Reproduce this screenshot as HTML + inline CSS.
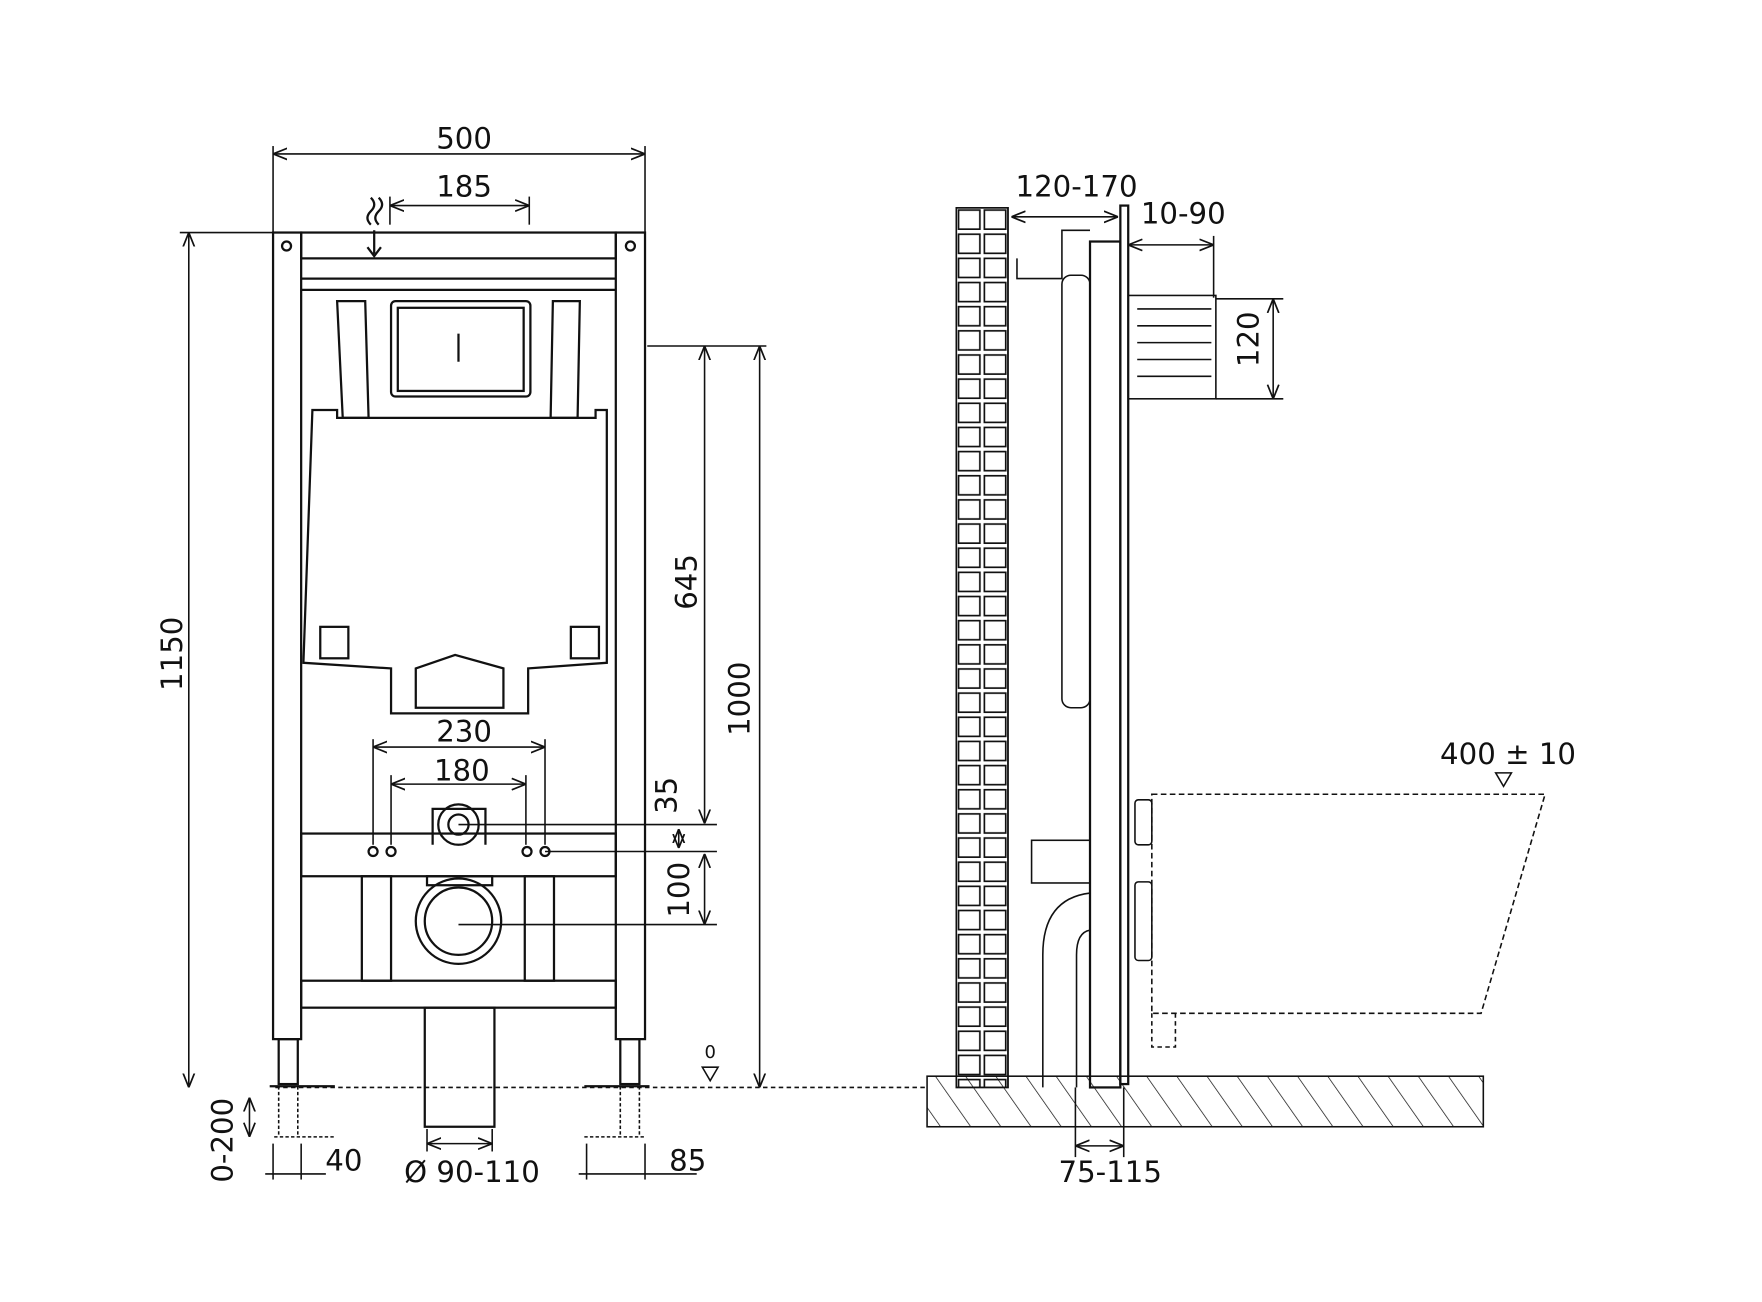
<!DOCTYPE html>
<html><head><meta charset="utf-8"><style>
html,body{margin:0;padding:0;background:#fff;width:1762px;height:1302px;overflow:hidden}
svg{display:block}
text{font-family:"DejaVu Sans","Liberation Sans",sans-serif;font-size:26px;fill:#111}
</style></head><body>
<svg width="1762" height="1302" viewBox="0 0 1568 1159" preserveAspectRatio="none" xmlns="http://www.w3.org/2000/svg">
<defs>
<marker id="a" viewBox="0 0 10 10" refX="10" refY="5" markerWidth="9" markerHeight="9" orient="auto-start-reverse"><path d="M0,1 L10,5 L0,9" fill="none" stroke="#111" stroke-width="1.2"/></marker>
<pattern id="h" width="22" height="22" patternUnits="userSpaceOnUse" patternTransform="rotate(-35)"><line x1="0" y1="0" x2="0" y2="22" stroke="#111" stroke-width="1.3"/></pattern>
<pattern id="br" width="23" height="21.5" patternUnits="userSpaceOnUse" x="851" y="185"><rect x="2" y="2" width="19" height="17" fill="none" stroke="#111" stroke-width="1.5"/></pattern>
</defs>
<g fill="none" stroke="#111" stroke-width="2">
<rect x="243" y="207" width="25" height="718"/>
<rect x="548" y="207" width="26" height="718"/>
<rect x="268" y="207" width="280" height="23"/>
<line x1="268" y1="248" x2="548" y2="248"/>
<line x1="268" y1="258" x2="548" y2="258"/>
<circle cx="255" cy="219" r="4"/><circle cx="561" cy="219" r="4"/>
<rect x="268" y="742" width="280" height="38"/>
<rect x="268" y="873" width="280" height="24"/>
<rect x="322" y="780" width="26" height="93"/><rect x="467" y="780" width="26" height="93"/>
<rect x="248" y="925" width="17" height="40"/><rect x="552" y="925" width="17" height="40"/>
<line x1="240" y1="967" x2="298" y2="967"/><line x1="520" y1="967" x2="578" y2="967"/>
<rect x="378" y="897" width="62" height="106"/>
<path d="M278,365 L300,365 L300,372 L530,372 L530,365 L540,365 L540,590 L470,595 L470,635 L348,635 L348,595 L270,590 Z"/>
<rect x="348" y="268" width="124" height="85" rx="4"/>
<rect x="354" y="274" width="112" height="74"/>
<line x1="408" y1="297" x2="408" y2="322"/>
<path d="M300,268 L325,268 L328,372 L305,372 Z"/><path d="M492,268 L516,268 L514,372 L490,372 Z"/>
<path d="M370,595 L405,583 L448,595 L448,630 L370,630 Z"/>
<rect x="285" y="558" width="25" height="28"/><rect x="508" y="558" width="25" height="28"/>
<path d="M385,752 L385,720 L432,720 L432,752"/>
<circle cx="408" cy="734" r="18"/><circle cx="408" cy="734" r="9"/>
<circle cx="408" cy="820" r="38"/><circle cx="408" cy="820" r="30"/>
<rect x="380" y="780" width="58" height="8"/>
<circle cx="332" cy="758" r="4"/><circle cx="348" cy="758" r="4"/><circle cx="469" cy="758" r="4"/><circle cx="485" cy="758" r="4"/>
<path d="M330,200 q-6,-6 0,-12 q6,-6 0,-12 M337,200 q-6,-6 0,-12 q6,-6 0,-12"/>
<path d="M333,205 L333,226 M327,220 L333,228 L339,220"/>
</g>
<g fill="none" stroke="#111" stroke-width="1.4">
<line x1="243" y1="137" x2="574" y2="137" marker-start="url(#a)" marker-end="url(#a)"/>
<line x1="243" y1="130" x2="243" y2="207"/><line x1="574" y1="130" x2="574" y2="207"/>
<line x1="347" y1="183" x2="471" y2="183" marker-start="url(#a)" marker-end="url(#a)"/>
<line x1="347" y1="175" x2="347" y2="200"/><line x1="471" y1="175" x2="471" y2="200"/>
<line x1="168" y1="207" x2="168" y2="968" marker-start="url(#a)" marker-end="url(#a)"/>
<line x1="160" y1="207" x2="243" y2="207"/>
<line x1="576" y1="308" x2="682" y2="308"/>
<line x1="627" y1="308" x2="627" y2="733" marker-start="url(#a)" marker-end="url(#a)"/>
<line x1="676" y1="308" x2="676" y2="968" marker-start="url(#a)" marker-end="url(#a)"/>
<line x1="408" y1="734" x2="638" y2="734"/><line x1="485" y1="758" x2="638" y2="758"/>
<line x1="408" y1="823" x2="638" y2="823"/>
<line x1="604" y1="738" x2="604" y2="755" marker-start="url(#a)" marker-end="url(#a)"/>
<line x1="627" y1="760" x2="627" y2="823" marker-start="url(#a)" marker-end="url(#a)"/>
<line x1="332" y1="665" x2="485" y2="665" marker-start="url(#a)" marker-end="url(#a)"/>
<line x1="332" y1="658" x2="332" y2="752"/><line x1="485" y1="658" x2="485" y2="752"/>
<line x1="348" y1="698" x2="468" y2="698" marker-start="url(#a)" marker-end="url(#a)"/>
<line x1="348" y1="690" x2="348" y2="752"/><line x1="468" y1="690" x2="468" y2="752"/>
<line x1="245" y1="968" x2="825" y2="968" stroke-dasharray="4 3"/>
<line x1="222" y1="977" x2="222" y2="1012" marker-start="url(#a)" marker-end="url(#a)"/>
<line x1="244" y1="1012" x2="298" y2="1012" stroke-dasharray="3 2"/><line x1="520" y1="1012" x2="574" y2="1012" stroke-dasharray="3 2"/>
<line x1="248" y1="967" x2="248" y2="1012" stroke-dasharray="3 2"/><line x1="265" y1="967" x2="265" y2="1012" stroke-dasharray="3 2"/>
<line x1="552" y1="967" x2="552" y2="1012" stroke-dasharray="3 2"/><line x1="569" y1="967" x2="569" y2="1012" stroke-dasharray="3 2"/>
<line x1="243" y1="1018" x2="243" y2="1050"/><line x1="268" y1="1018" x2="268" y2="1050"/>
<line x1="236" y1="1045" x2="290" y2="1045"/>
<line x1="522" y1="1018" x2="522" y2="1050"/><line x1="574" y1="1018" x2="574" y2="1050"/>
<line x1="515" y1="1045" x2="620" y2="1045"/>
<line x1="380" y1="1018" x2="438" y2="1018" marker-start="url(#a)" marker-end="url(#a)"/>
<line x1="380" y1="1005" x2="380" y2="1025"/><line x1="438" y1="1005" x2="438" y2="1025"/>
<path d="M625,950 L639,950 L632,962 Z"/>
<rect x="825" y="958" width="495" height="45" fill="url(#h)"/>
<rect x="851" y="185" width="46" height="783" fill="url(#br)"/>
<rect x="851" y="185" width="46" height="783"/>
<rect x="970" y="215" width="27" height="753" stroke-width="2"/>
<rect x="997" y="183" width="7" height="782" stroke-width="2"/>
<rect x="945" y="245" width="25" height="385" rx="8"/>
<path d="M905,230 L905,248 L945,248 L945,205 L970,205"/>
<rect x="1004" y="263" width="78" height="92"/>
<path d="M1012,275 H1078 M1012,290 H1078 M1012,305 H1078 M1012,320 H1078 M1012,335 H1078"/>
<rect x="918" y="748" width="52" height="38"/>
<path d="M928,968 L928,850 Q928,800 970,795 M958,968 L958,850 Q958,830 970,828"/>
<rect x="1010" y="712" width="15" height="40" rx="3"/><rect x="1010" y="785" width="15" height="70" rx="3"/>
<path d="M1025,707 L1375,707 L1318,902 L1025,902 Z" stroke-dasharray="5 3"/>
<path d="M1025,902 L1025,932 L1046,932 L1046,902" stroke-dasharray="4 3"/>
<path d="M1331,688 L1345,688 L1338,700 Z"/>
<line x1="900" y1="193" x2="995" y2="193" marker-start="url(#a)" marker-end="url(#a)"/>
<line x1="1004" y1="218" x2="1080" y2="218" marker-start="url(#a)" marker-end="url(#a)"/>
<line x1="1080" y1="210" x2="1080" y2="265"/>
<line x1="1133" y1="266" x2="1133" y2="355" marker-start="url(#a)" marker-end="url(#a)"/>
<line x1="1082" y1="266" x2="1142" y2="266"/><line x1="1082" y1="355" x2="1142" y2="355"/>
<line x1="957" y1="1020" x2="1000" y2="1020" marker-start="url(#a)" marker-end="url(#a)"/>
<line x1="957" y1="968" x2="957" y2="1030"/><line x1="1000" y1="968" x2="1000" y2="1030"/>
</g>
<text x="413" y="132" text-anchor="middle">500</text>
<text x="413" y="175" text-anchor="middle">185</text>
<text transform="translate(162,582) rotate(-90)" text-anchor="middle">1150</text>
<text transform="translate(620,518) rotate(-90)" text-anchor="middle">645</text>
<text transform="translate(667,622) rotate(-90)" text-anchor="middle">1000</text>
<text transform="translate(602,708) rotate(-90)" text-anchor="middle">35</text>
<text transform="translate(613,792) rotate(-90)" text-anchor="middle">100</text>
<text x="413" y="660" text-anchor="middle">230</text>
<text x="411" y="695" text-anchor="middle">180</text>
<text transform="translate(207,1015) rotate(-90)" text-anchor="middle">0-200</text>
<text x="306" y="1042" text-anchor="middle">40</text>
<text x="420" y="1052" text-anchor="middle">Ø 90-110</text>
<text x="612" y="1042" text-anchor="middle">85</text>
<text x="632" y="942" text-anchor="middle" style="font-size:16px">0</text>
<text x="958" y="175" text-anchor="middle">120-170</text>
<text x="1053" y="199" text-anchor="middle">10-90</text>
<text transform="translate(1120,302) rotate(-90)" text-anchor="middle">120</text>
<text x="1342" y="680" text-anchor="middle">400 ± 10</text>
<text x="988" y="1052" text-anchor="middle">75-115</text>
</svg>
</body></html>
